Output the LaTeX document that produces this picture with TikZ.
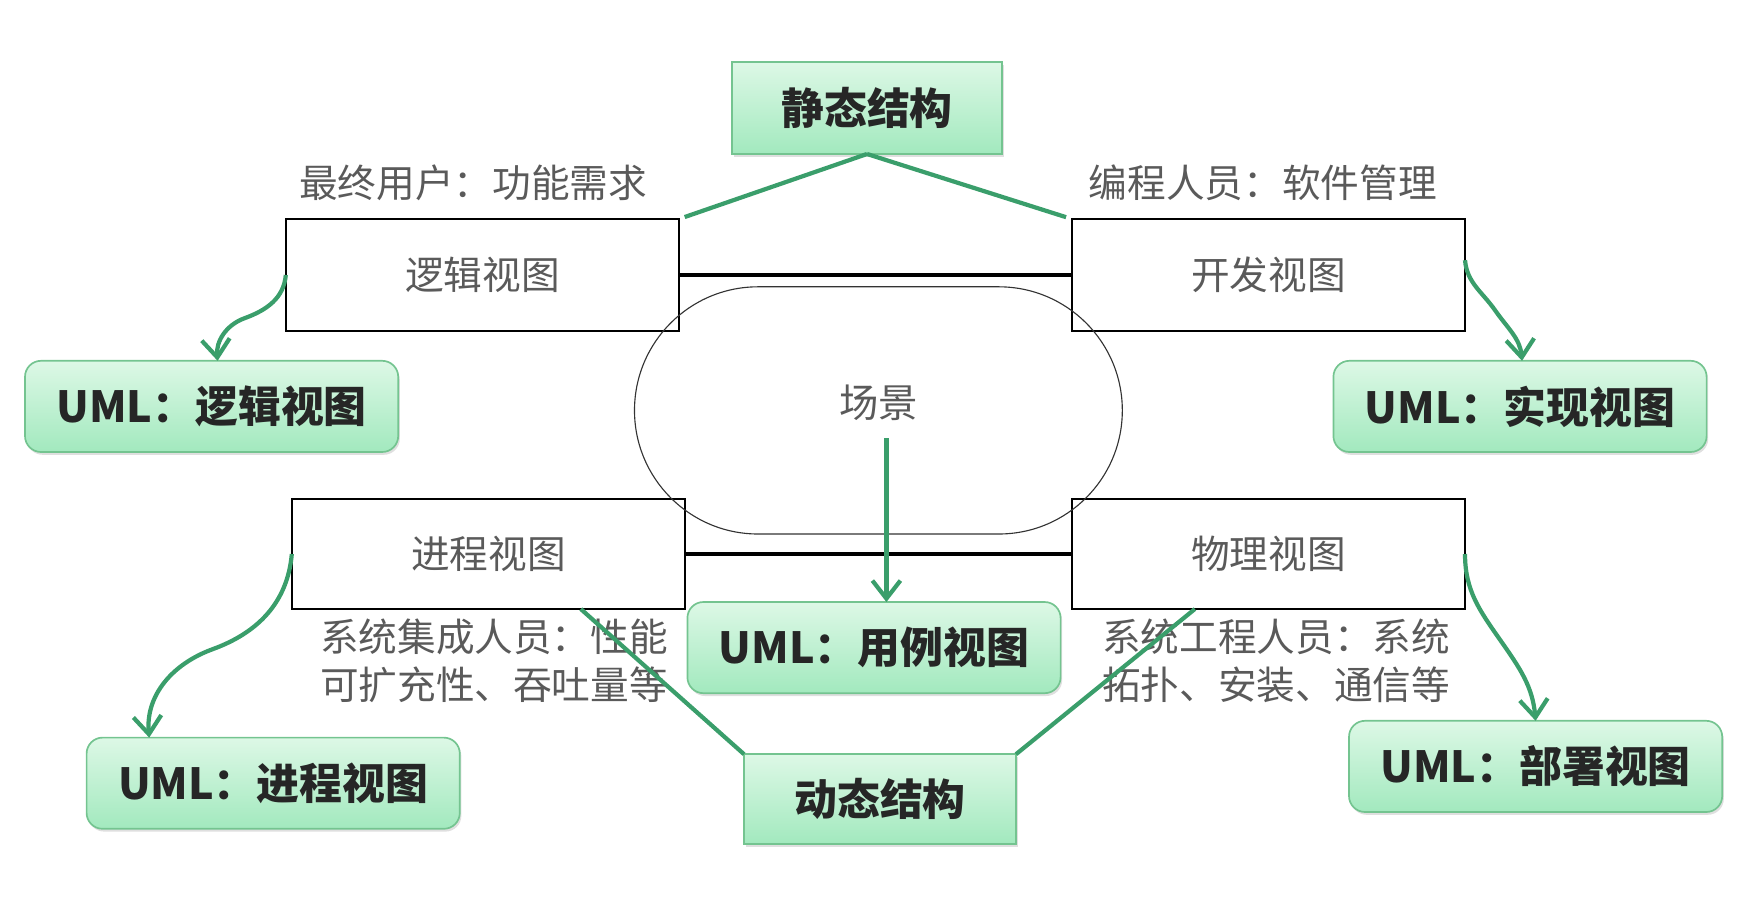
\documentclass[tikz,border=0pt]{standalone}
\usepackage{fontspec}
\newfontfamily\cjk{Noto Sans CJK SC}
\usepackage{tikz}
\usetikzlibrary{arrows.meta,positioning,calc,shapes.misc,shadows}
\definecolor{lnColor}{HTML}{3A9E6B}
\definecolor{bdColor}{HTML}{74C490}
\definecolor{topColor}{HTML}{DDF8E6}
\definecolor{botColor}{HTML}{A2E9BE}
\definecolor{txtColor}{HTML}{5A5A5A}
\newcommand{\uml}[1]{UML：#1}

\begin{document}
\begin{tikzpicture}[semithick,
		view/.style={draw, line width=1.1pt, minimum width=9.83cm, minimum height=2.8cm, outer sep=0,
			text=txtColor, font=\cjk\fontsize{27.5}{33}\selectfont},
		gbox/.style={draw=bdColor, line width=1.2pt, top color=topColor, bottom color=botColor, outer sep=0,
			text=black!85, font=\cjk\bfseries\fontsize{30.5}{36}\selectfont,
			drop shadow={shadow xshift=0.04cm, shadow yshift=-0.07cm, opacity=0.25}},
		umlbox/.style={gbox, rounded corners=0.4cm, minimum width=9.33cm, minimum height=2.28cm},
		note/.style={text=txtColor, font=\cjk\fontsize{27.5}{34}\selectfont},
		link/.style={lnColor, line width=3pt},
		garrow/.style={link, -{Straight Barb[length=0.45cm, width=0.7cm]}}]
	\useasboundingbox (0,0) rectangle (44,-22.6);
	
	% the four views and the scenes
	\node[view] (lv) at (12.06, -6.875) {逻辑视图};
	\node[view] (dv) at (31.71, -6.875) {开发视图};
	\node[view, minimum height=2.75cm] (pv) at (12.21, -13.85) {进程视图};
	\node[view, minimum height=2.75cm] (phv) at (31.71, -13.85) {物理视图};
	\node[draw, rounded rectangle, line width=0.8pt, draw=black!80, minimum width=12.43cm, minimum height=6.18cm,
		text=txtColor, font=\cjk\fontsize{28}{33}\selectfont, text depth=0.45cm] (scene) at (21.96, -10.26) {场景};
	\draw[line width=2.4pt] (lv.east) -- (dv.west);
	\draw[line width=2.4pt] (pv.east) -- (phv.west);
	
	% stakeholders
	\node[note] (n1) at (11.83, -4.575) {最终用户：功能需求};
	\node[note] (n2) at (31.57, -4.575) {编程人员：软件管理};
	\node[note] (n3) at (12.35, -16.65) {\begin{tabular}{l} 系统集成人员：性能 \\ 可扩充性、吞吐量等 \end{tabular}};
	\node[note] (n4) at (31.9, -16.65) {\begin{tabular}{l} 系统工程人员：系统 \\ 拓扑、安装、通信等 \end{tabular}};
	
	% green boxes
	\node[gbox, minimum width=6.75cm, minimum height=2.3cm] (st) at (21.675, -2.7) {静态结构};
	\node[gbox, minimum width=6.8cm, minimum height=2.25cm] (dyn) at (22.0, -19.98) {动态结构};
	\node[umlbox] (ulv) at (5.29, -10.16) {\uml{逻辑视图}};
	\node[umlbox] (uiv) at (38.0, -10.16) {\uml{实现视图}};
	\node[umlbox] (uuc) at (21.85, -16.19) {\uml{用例视图}};
	\node[umlbox] (upv) at (6.83, -19.58) {\uml{进程视图}};
	\node[umlbox] (udv) at (38.39, -19.16) {\uml{部署视图}};
	
	\path (pv.south west) -- (pv.south east) coordinate[pos=0.735] (pvx);
	\path (phv.south west) -- (phv.south east) coordinate[pos=0.313] (phvx);
	\coordinate (scx) at ([xshift=0.2cm, yshift=-0.7cm]scene.center);
	
	\draw[link, shorten >=0.15cm] (st.south) -- (lv.north east);
	\draw[link, shorten >=0.15cm] (st.south) -- (dv.north west);
	\draw[link] (dyn.north west) -- (pvx);
	\draw[link] (dyn.north east) -- (phvx);
	
	\draw[garrow] (scx) -- (scx |- uuc.north);
	\draw[garrow] (lv.west) to[out=-95, in=20] ++(-1.03, -1.08) to[out=200, in=95] ([xshift=0.15cm]ulv.north);
	\draw[garrow] ([yshift=0.37cm]dv.east) to[out=-85, in=125] ++(0.75, -1.25) to[out=-55, in=95] ([xshift=0.05cm]uiv.north);
	\draw[garrow] (pv.west) to[out=-95, in=20] ++(-1.98, -2.38) to[out=200, in=95] ([xshift=-3.1cm]upv.north);
	\draw[garrow] (phv.east) to[out=-90, in=125] ++(0.88, -2.15) to[out=-55, in=95] (udv.north);
\end{tikzpicture}
\end{document}
